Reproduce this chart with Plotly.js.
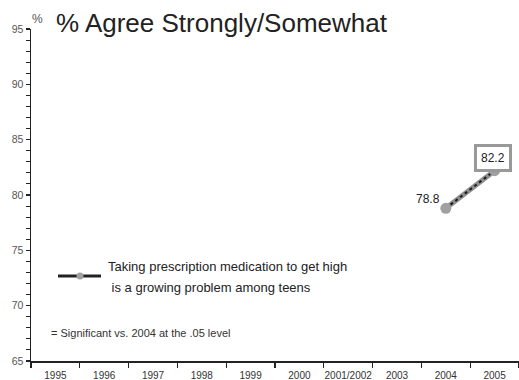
<!DOCTYPE html>
<html>
<head>
<meta charset="utf-8">
<script src="https://cdn.plot.ly/plotly-3.0.1.min.js"></script>
<style>html,body{margin:0;padding:0;background:#fff;}#chart{width:519px;height:380px;}</style>
</head>
<body>
<div id="chart"></div>
<script>
// ---- data ----
const years = ['1995','1996','1997','1998','1999','2000','2001/2002','2003','2004','2005'];
const agreeValues = [null, null, null, null, null, null, null, null, 78.8, 82.2];
const seriesName = 'Taking prescription medication to get high';
const seriesName2 = ' is a growing problem among teens';
const yTickVals = [65, 70, 75, 80, 85, 90, 95];

const FONT = '"Liberation Sans", Arial, Helvetica, sans-serif';

// pixel helpers for paper coordinates (plot area: x 31..519, y 29..361)
const L = 31, T = 29, W = 488, H = 332;
const px = x => (x - L) / W;
const py = y => (T + H - y) / H;

const traces = [
  { x: years, y: agreeValues, type: 'scatter', mode: 'lines',
    line: { color: '#8e8e8e', width: 5 }, hoverinfo: 'skip', showlegend: false },
  { x: years, y: agreeValues, type: 'scatter', mode: 'lines',
    line: { color: '#1a1a1a', width: 2, dash: '3px,3px' }, hoverinfo: 'skip', showlegend: false },
  { x: years, y: agreeValues, type: 'scatter', mode: 'markers',
    marker: { color: '#a0a0a0', size: 11 }, showlegend: false }
];

const i04 = years.indexOf('2004'), i05 = years.indexOf('2005');

const layout = {
  width: 519, height: 380,
  margin: { l: L, r: 0, t: T, b: 380 - T - H },
  paper_bgcolor: '#fff', plot_bgcolor: '#fff',
  showlegend: false,
  font: { family: FONT, color: '#333' },
  title: { text: '% Agree Strongly/Somewhat', xref: 'container', yref: 'container',
    x: 56 / 519, xanchor: 'left', y: 1 - 23 / 380, yanchor: 'middle',
    font: { family: FONT, size: 26, color: '#222' } },
  xaxis: {
    type: 'category', categoryorder: 'array', categoryarray: years,
    range: [-0.5, years.length - 0.5], fixedrange: true,
    tickson: 'boundaries', ticks: 'outside', ticklen: 5, tickwidth: 1.2, tickcolor: '#222',
    tickangle: 0, automargin: false, ticklabelstandoff: 4,
    showline: true, linecolor: '#222', linewidth: 1.5, showgrid: false, zeroline: false,
    tickfont: { family: FONT, size: 10, color: '#333' }
  },
  yaxis: {
    range: [65, 95], fixedrange: true, automargin: false,
    tickvals: yTickVals, ticktext: yTickVals.map(String),
    ticks: 'outside', ticklen: 4, tickwidth: 1.2, tickcolor: '#222', ticklabelstandoff: 0,
    minor: { dtick: 1, ticks: 'outside', ticklen: 4, tickwidth: 1, tickcolor: '#222' },
    showline: true, linecolor: '#222', linewidth: 1.5, showgrid: false, zeroline: false,
    tickfont: { family: FONT, size: 10.5, color: '#555' }
  },
  shapes: [
    { type: 'line', xref: 'paper', yref: 'paper', x0: px(58), x1: px(101), y0: py(276), y1: py(276),
      line: { color: '#222', width: 3 } },
    { type: 'circle', xref: 'paper', yref: 'paper', x0: px(76.5), x1: px(83.5), y0: py(279.5), y1: py(272.5),
      fillcolor: '#a0a0a0', line: { width: 0 } }
  ],
  annotations: [
    { xref: 'paper', yref: 'paper', x: px(37), y: py(19), text: '%', showarrow: false,
      xanchor: 'center', yanchor: 'middle', font: { size: 12, color: '#555' } },
    { xref: 'paper', yref: 'paper', x: px(106), y: py(266), text: seriesName, showarrow: false,
      xanchor: 'left', yanchor: 'middle', font: { size: 13, color: '#222' } },
    { xref: 'paper', yref: 'paper', x: px(106), y: py(287), text: seriesName2, showarrow: false,
      xanchor: 'left', yanchor: 'middle', font: { size: 13, color: '#222' } },
    { xref: 'paper', yref: 'paper', x: px(49), y: py(333), text: '= Significant vs. 2004 at the .05 level',
      showarrow: false, xanchor: 'left', yanchor: 'middle', font: { size: 11, color: '#333' } },
    { xref: 'x', yref: 'y', x: i04, y: agreeValues[i04], text: String(agreeValues[i04].toFixed(1)), showarrow: false,
      xanchor: 'right', yanchor: 'middle', xshift: -4, yshift: 9, font: { size: 12, color: '#222' } },
    { xref: 'x', yref: 'y', x: i05, y: agreeValues[i05], text: String(agreeValues[i05].toFixed(1)), showarrow: false,
      xanchor: 'center', yanchor: 'middle', xshift: -2, yshift: 13,
      bordercolor: '#999', borderwidth: 3, borderpad: 4, bgcolor: '#fff',
      font: { size: 12, color: '#222' } }
  ]
};

Plotly.newPlot('chart', traces, layout, { displayModeBar: false, staticPlot: true });
</script>
</body>
</html>
